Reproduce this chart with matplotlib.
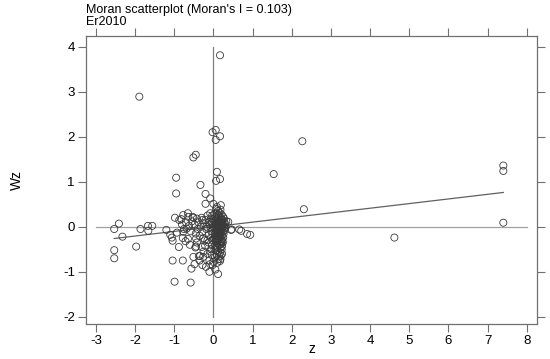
import matplotlib
matplotlib.use('Agg')
import matplotlib.pyplot as plt
import numpy as np

plt.rcParams['font.family'] = ['Liberation Sans', 'DejaVu Sans']
plt.rcParams['axes.unicode_minus'] = False

moran_i = 0.103

# outlying / clearly visible points
z_out = [0.17, -1.89, -0.02, 0.06, 0.06, 0.17, -0.51, -0.45, 0.09, -0.95, 0.17, 0.07,
         2.27, 1.54, 2.31, 4.62, 7.40, 7.40, 7.40, -0.95, -0.33, -0.20, -0.08, -0.20,
         0.00, 0.09, 0.19]
wz_out = [3.81, 2.89, 2.10, 2.15, 1.93, 2.01, 1.54, 1.60, 1.22, 1.09, 1.06, 1.02,
          1.90, 1.17, 0.39, -0.24, 1.36, 1.24, 0.09, 0.74, 0.93, 0.73, 0.63, 0.51,
          0.51, 0.44, 0.48]

# left-hand group
z_left = [-2.41, -2.53, -2.32, -2.53, -2.53, -1.97, -1.86, -1.67, -1.56, -1.66, -1.20,
          -1.10, -1.06, -1.04, -0.98, -0.93, -0.87, -0.82, -0.65, -0.53, -0.71, -0.65,
          -1.04, -0.78, -0.99, -0.58, -0.56, -0.48, -0.46, -0.51, -0.37, -0.19,
          -0.77, -0.68, -0.44, -0.44, -0.21, -0.34, -0.26, -0.08, 0.00, 0.13, 0.17,
          -0.77, -0.64, -0.51]
wz_left = [0.07, -0.05, -0.22, -0.52, -0.70, -0.44, -0.05, 0.02, 0.02, -0.09, -0.07,
           -0.18, -0.24, -0.31, 0.20, -0.13, 0.15, 0.17, 0.30, 0.22, -0.32, -0.27,
           -0.75, -0.75, -1.22, -1.24, -0.93, -0.83, -0.46, -0.67, -0.65, -0.89,
           -0.11, -0.04, -0.26, -0.44, -0.42, -0.65, -0.67, -0.83, -0.78, -0.72, -0.76,
           0.26, 0.22, 0.20]

# points right of the centre
z_right = [0.45, 0.71, 0.86, 0.38, 0.94, 0.47, 0.66]
wz_right = [-0.07, -0.09, -0.16, 0.11, -0.18, -0.06, -0.06]

# near-centre scatter
z_mid = [-0.80, -0.75, -0.70, -0.62, -0.58, -0.55, -0.48, -0.45, -0.42, -0.40, -0.38,
         -0.35, -0.32, -0.30, -0.28, -0.25, -0.22, -0.20, -0.18, -0.15, -0.12, -0.10,
         -0.08, -0.05, -0.03, -0.78, -0.88, -0.60, -0.42, -0.30, -0.25, -0.15, -0.35,
         -0.28, -0.10, -0.05, -0.12, -0.02, -0.02, 0.05, 0.10, 0.18, 0.22, 0.12, -0.10,
         -0.15, -0.18, -0.12, -0.25, -0.28]
wz_mid = [0.05, -0.05, 0.10, 0.02, -0.10, 0.12, 0.05, -0.15, 0.18, -0.05, 0.10,
          -0.20, 0.00, 0.20, -0.12, 0.08, -0.30, 0.15, -0.05, 0.25, -0.18, 0.05,
          0.30, -0.10, 0.12, -0.25, -0.45, -0.40, -0.35, -0.45, -0.55, -0.60, -0.75,
          -0.85, -0.75, -0.50, -0.35, -0.30, -0.85, -0.95, -0.80, -0.72, -0.60, -1.05,
          -1.00, -0.30, 0.00, 0.10, -0.25, 0.15]

# dense core just right of zero
z_core = [0.03, 0.08, 0.12, 0.16, 0.21, 0.25, 0.05, 0.10, 0.14, 0.19, 0.23, 0.28,
          0.02, 0.06, 0.09, 0.13, 0.17, 0.21, 0.24, 0.27,
          0.04, 0.07, 0.11, 0.15, 0.18, 0.22, 0.26, 0.30,
          0.03, 0.06, 0.10, 0.13, 0.16, 0.20, 0.24, 0.28,
          0.05, 0.08, 0.12, 0.15, 0.19, 0.22, 0.26,
          0.04, 0.07, 0.11, 0.14, 0.18, 0.21, 0.25,
          0.06, 0.09, 0.13, 0.16, 0.20, 0.23,
          0.05, 0.10, 0.14, 0.18, 0.22,
          0.07, 0.12, 0.17, 0.21, 0.09, 0.15, 0.04, 0.19,
          0.12, 0.18, 0.07, -0.03, -0.06, -0.04, -0.07, -0.02, -0.06, -0.03, -0.08, -0.04,
          0.01, 0.09, 0.16, 0.11, 0.19, 0.13, 0.08, 0.17, 0.24, 0.03, 0.27, 0.31, 0.33,
          0.14, 0.20, 0.10, 0.23, 0.06, 0.17, 0.12, 0.21, 0.08, 0.15, 0.26, 0.19]
wz_core = [0.28, 0.30, 0.26, 0.31, 0.27, 0.22, 0.21, 0.18, 0.23, 0.19, 0.15, 0.10,
           0.12, 0.14, 0.09, 0.12, 0.08, 0.11, 0.05, 0.02,
           0.05, 0.02, 0.04, 0.01, 0.03, -0.02, -0.05, 0.06,
           -0.04, -0.08, -0.03, -0.07, -0.05, -0.09, -0.12, -0.08,
           -0.14, -0.17, -0.12, -0.16, -0.14, -0.19, -0.16,
           -0.22, -0.26, -0.21, -0.25, -0.22, -0.28, -0.24,
           -0.32, -0.36, -0.30, -0.34, -0.38, -0.32,
           -0.42, -0.45, -0.40, -0.47, -0.43,
           -0.52, -0.55, -0.58, -0.51, -0.62, -0.66, -0.68, -0.64,
           0.35, 0.38, 0.40, 0.25, 0.18, 0.08, -0.02, -0.15, -0.24, -0.40, -0.55, -0.63,
           0.00, 0.06, 0.15, -0.10, -0.02, 0.20, -0.29, -0.40, -0.35, -0.50, 0.18, -0.02, 0.12,
           0.07, 0.00, -0.13, 0.09, -0.19, -0.10, -0.27, 0.16, -0.44, -0.20, 0.00, -0.33]

z = np.array(z_out + z_left + z_right + z_mid + z_core)
wz = np.array(wz_out + wz_left + wz_right + wz_mid + wz_core)

fig = plt.figure(figsize=(5.5, 3.59), dpi=100)
ax = fig.add_axes([0.1564, 0.0975, 0.82, 0.8025])

# reference lines
ax.plot([0, 0], [-2, 4], color='#808080', lw=0.9, zorder=1)
ax.plot([-3, 8], [0, 0], color='#a0a0a0', lw=0.9, zorder=1)

# fitted line (slope = Moran's I)
xs = np.array([z.min(), z.max()])
ax.plot(xs, moran_i * xs, color='#606060', lw=0.9, zorder=2)

ax.scatter(z, wz, s=26, facecolors='none', edgecolors='#3a3a3a', linewidths=0.6, zorder=3)

ax.set_xlim(-3.25, 8.26)
ax.set_ylim(-2.16, 4.24)
ax.set_xticks(range(-3, 9))
ax.set_yticks(range(-2, 5))
ax.tick_params(direction='out', length=6, width=0.8, color='#707070', labelsize=9.5,
               top=True, right=True, labeltop=False, labelright=False, pad=2)
for s in ax.spines.values():
    s.set_color('#707070')
    s.set_linewidth(0.9)

ax.set_ylabel('Wz', fontsize=10, labelpad=28)
fig.text(0.5665, 0.027, 'z', fontsize=10, va='center', ha='center')

fig.text(0.1564, 0.972, "Moran scatterplot (Moran's I = 0.103)", fontsize=9, va='center', ha='left')
fig.text(0.1564, 0.939, 'Er2010', fontsize=9, va='center', ha='left')

fig.savefig('out.png', dpi=100)
